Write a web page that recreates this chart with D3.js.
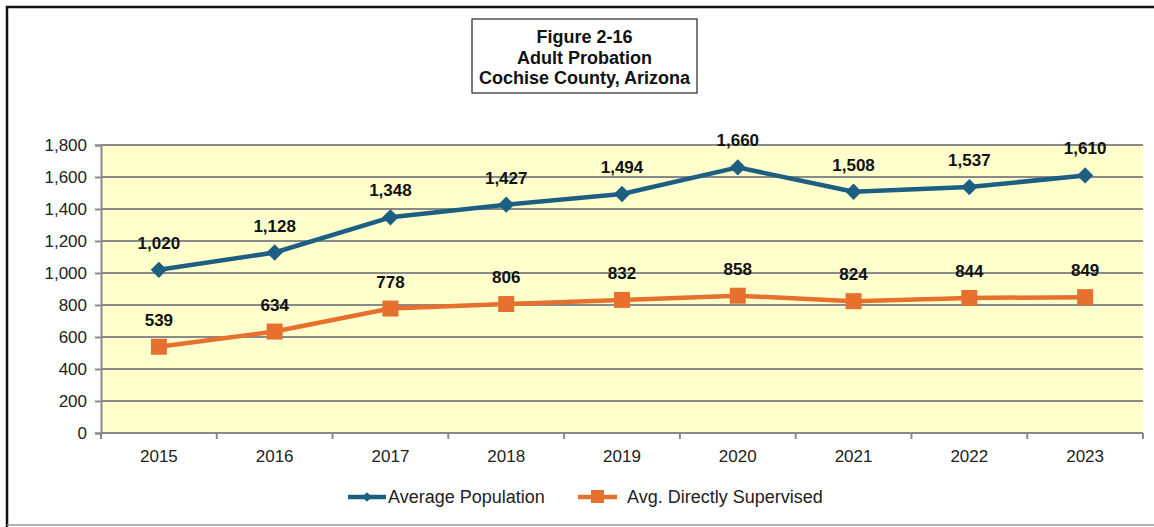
<!DOCTYPE html>
<html>
<head>
<meta charset="utf-8">
<script src="https://cdn.jsdelivr.net/npm/d3@7"></script>
<style>
  html, body { margin: 0; padding: 0; background: #fff; }
  svg { display: block; font-family: Arial, "Liberation Sans", sans-serif; }
</style>
</head>
<body>
<svg id="chart" width="1154" height="527"></svg>
<script>
// Adult probation caseload, Cochise County
const years = ["2015", "2016", "2017", "2018", "2019", "2020", "2021", "2022", "2023"];
const avgPopulation = [1020, 1128, 1348, 1427, 1494, 1660, 1508, 1537, 1610];
const avgSupervised = [539, 634, 778, 806, 832, 858, 824, 844, 849];
const yTicks = [0, 200, 400, 600, 800, 1000, 1200, 1400, 1600, 1800];
const titleLines = ["Figure 2-16", "Adult Probation", "Cochise County, Arizona"];
const seriesNames = ["Average Population", "Avg. Directly Supervised"];

const svg = d3.select("#chart");
const blue = "#1d5f82";
const orange = "#e8702e";
const font = "Arial, 'Liberation Sans', sans-serif";

// outer frame
svg.append("path")
  .attr("d", "M7,527 L7,7 L1154,7")
  .attr("fill", "none").attr("stroke", "#111").attr("stroke-width", 2.5);
svg.append("line").attr("x1", 7).attr("x2", 1154).attr("y1", 525).attr("y2", 525)
  .attr("stroke", "#999").attr("stroke-width", 1.5);

const plot = { left: 101, right: 1143, top: 145, bottom: 433 };

const x = d3.scaleBand().domain(years).range([plot.left, plot.right]).padding(0);
const y = d3.scaleLinear().domain([0, 1800]).range([plot.bottom, plot.top]);
const cx = d => x(d) + x.bandwidth() / 2;

// plot background
svg.append("rect")
  .attr("x", plot.left).attr("y", plot.top)
  .attr("width", plot.right - plot.left).attr("height", plot.bottom - plot.top)
  .attr("fill", "#ffffcc");

// gridlines
svg.append("g").selectAll("line").data(yTicks.filter(t => t > 0)).join("line")
  .attr("x1", plot.left).attr("x2", plot.right)
  .attr("y1", d => y(d)).attr("y2", d => y(d))
  .attr("stroke", "#8a8a8a").attr("stroke-width", 2);

// y axis
const yAxis = svg.append("g").attr("transform", `translate(${plot.left},0)`)
  .call(d3.axisLeft(y).tickValues(yTicks).tickSize(6).tickPadding(8).tickFormat(d3.format(",")));
yAxis.select(".domain").attr("stroke", "#8a8a8a").attr("stroke-width", 2);
yAxis.selectAll(".tick line").attr("stroke", "#8a8a8a").attr("stroke-width", 2);
yAxis.selectAll(".tick text").attr("font-size", 17).attr("fill", "#222")
  .attr("font-family", font);

// x axis: ticks at category boundaries
const xAxisG = svg.append("g").attr("transform", `translate(0,${plot.bottom})`);
xAxisG.append("line").attr("x1", plot.left).attr("x2", plot.right)
  .attr("stroke", "#8a8a8a").attr("stroke-width", 2);
const bounds = years.map(d => x(d)).concat([plot.right]);
xAxisG.selectAll("line.tk").data(bounds).join("line").attr("class", "tk")
  .attr("x1", d => d).attr("x2", d => d).attr("y1", 0).attr("y2", 6)
  .attr("stroke", "#8a8a8a").attr("stroke-width", 2);
xAxisG.selectAll("text").data(years).join("text")
  .attr("x", d => cx(d)).attr("y", 29)
  .attr("text-anchor", "middle").attr("font-size", 17).attr("fill", "#222")
  .text(d => d);

// lines
const line = d3.line().x((d, i) => cx(years[i])).y(d => y(d));
svg.append("path").datum(avgPopulation).attr("d", line)
  .attr("fill", "none").attr("stroke", blue).attr("stroke-width", 4.5).attr("stroke-linejoin", "round");
svg.append("path").datum(avgSupervised).attr("d", line)
  .attr("fill", "none").attr("stroke", orange).attr("stroke-width", 4.5).attr("stroke-linejoin", "round");

// markers
const diamond = d3.symbol().type(d3.symbolDiamond2).size(170);
svg.append("g").selectAll("path").data(avgPopulation).join("path")
  .attr("d", diamond)
  .attr("transform", (d, i) => `translate(${cx(years[i])},${y(d)})`)
  .attr("fill", blue);
svg.append("g").selectAll("rect").data(avgSupervised).join("rect")
  .attr("x", (d, i) => cx(years[i]) - 8).attr("y", d => y(d) - 8)
  .attr("width", 16).attr("height", 16)
  .attr("fill", orange);

// value labels
const fmt = d3.format(",");
svg.append("g").selectAll("text").data(avgPopulation).join("text")
  .attr("x", (d, i) => cx(years[i])).attr("y", d => y(d) - 21)
  .attr("text-anchor", "middle").attr("font-size", 17).attr("font-weight", "bold").attr("fill", "#111")
  .text(d => fmt(d));
svg.append("g").selectAll("text").data(avgSupervised).join("text")
  .attr("x", (d, i) => cx(years[i])).attr("y", d => y(d) - 21)
  .attr("text-anchor", "middle").attr("font-size", 17).attr("font-weight", "bold").attr("fill", "#111")
  .text(d => fmt(d));

// title box
svg.append("rect").attr("x", 472).attr("y", 19).attr("width", 225).attr("height", 74)
  .attr("fill", "#fff").attr("stroke", "#222").attr("stroke-width", 1.2);
svg.append("g").selectAll("text").data(titleLines).join("text")
  .attr("x", 584.5).attr("y", (d, i) => 43 + i * 20.5)
  .attr("text-anchor", "middle").attr("font-size", 18).attr("font-weight", "bold").attr("fill", "#111")
  .text(d => d);

// legend
const legend = svg.append("g");
legend.append("line").attr("x1", 348).attr("x2", 386).attr("y1", 497).attr("y2", 497)
  .attr("stroke", blue).attr("stroke-width", 4.5);
legend.append("path").attr("d", d3.symbol().type(d3.symbolDiamond2).size(60))
  .attr("transform", "translate(367,497)").attr("fill", blue);
legend.append("text").attr("x", 388).attr("y", 503).attr("font-size", 18).attr("fill", "#222")
  .text(seriesNames[0]);
legend.append("line").attr("x1", 578).attr("x2", 617).attr("y1", 497).attr("y2", 497)
  .attr("stroke", orange).attr("stroke-width", 4.5);
legend.append("rect").attr("x", 591).attr("y", 490).attr("width", 13).attr("height", 13).attr("fill", orange);
legend.append("text").attr("x", 627).attr("y", 503).attr("font-size", 18).attr("fill", "#222")
  .text(seriesNames[1]);
</script>
</body>
</html>
